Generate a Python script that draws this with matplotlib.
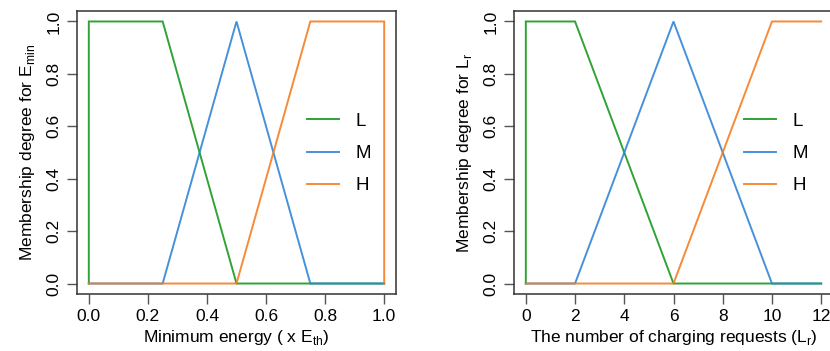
import matplotlib
matplotlib.use("Agg")
import matplotlib.pyplot as plt

plt.rcParams['font.family'] = ['Liberation Sans', 'DejaVu Sans']
plt.rcParams['font.size'] = 12.5

# left panel: minimum energy (x E_th)
e_x = [0.0, 0.25, 0.5, 0.75, 1.0]
e_L = [1.0, 1.0, 0.0, 0.0, 0.0]
e_M = [0.0, 0.0, 1.0, 0.0, 0.0]
e_H = [0.0, 0.0, 0.0, 1.0, 1.0]
e_ticks = [0.0, 0.2, 0.4, 0.6, 0.8, 1.0]

# right panel: number of charging requests
r_x = [0, 2, 6, 10, 12]
r_L = [1.0, 1.0, 0.0, 0.0, 0.0]
r_M = [0.0, 0.0, 1.0, 0.0, 0.0]
r_H = [0.0, 0.0, 0.0, 1.0, 1.0]
r_ticks = [0, 2, 4, 6, 8, 10, 12]

y_ticks = [0.0, 0.2, 0.4, 0.6, 0.8, 1.0]
labels = ['L', 'M', 'H']
colors = ['#14961a', '#2c82d6', '#f77a1c']

W, H = 830, 351
fig = plt.figure(figsize=(W / 100, H / 100), dpi=100)


def panel(rect, x, ys, xticks, xlab, ylab, close_left=True, close_right=False):
    l, t, r, b = rect
    ax = fig.add_axes([l / W, 1 - b / H, (r - l) / W, (b - t) / H])
    for i, (y, c, lab) in enumerate(zip(ys, colors, labels)):
        xx = list(x)
        yy = list(y)
        if i == 0 and close_left:
            xx = [x[0]] + xx
            yy = [0.0] + yy
        if i == 2 and close_right:
            xx = xx + [x[-1]]
            yy = yy + [0.0]
        ax.plot(xx, yy, color=c, lw=1.4, alpha=0.88, label=lab, solid_joinstyle='miter')
    pad = 0.04 * (x[-1] - x[0])
    ax.set_xlim(x[0] - pad, x[-1] + pad)
    ax.set_ylim(-0.04, 1.04)
    ax.set_xticks(xticks)
    ax.set_xticklabels([('%g' % v) if isinstance(v, int) else '%.1f' % v for v in xticks])
    ax.set_yticks(y_ticks)
    ax.set_yticklabels(['%.1f' % v for v in y_ticks], rotation=90, va='center')
    ax.tick_params(direction='out', length=7, width=1, color='#555555', pad=4, labelsize=12.5)
    for s in ax.spines.values():
        s.set_color('#333333')
        s.set_linewidth(1.1)
    ax.set_xlabel(xlab, fontsize=12.5, labelpad=3)
    ax.set_ylabel(ylab, fontsize=12.5, labelpad=7)
    ax.legend(loc='upper left', bbox_to_anchor=(0.72, 0.64), frameon=False,
              handlelength=1.75, handletextpad=0.85, labelspacing=0.8,
              borderpad=0, borderaxespad=0, fontsize=13.5)
    return ax


panel((77, 11, 396, 294), e_x, [e_L, e_M, e_H], e_ticks,
      r'Minimum energy ( x E$_\mathregular{th}$)',
      r'Membership degree for E$_\mathregular{min}$', close_right=True)
panel((514, 11, 833, 294), r_x, [r_L, r_M, r_H], r_ticks,
      r'The number of charging requests (L$_\mathregular{r}$)',
      r'Membership degree for L$_\mathregular{r}$')

fig.savefig('out.png', dpi=100)
